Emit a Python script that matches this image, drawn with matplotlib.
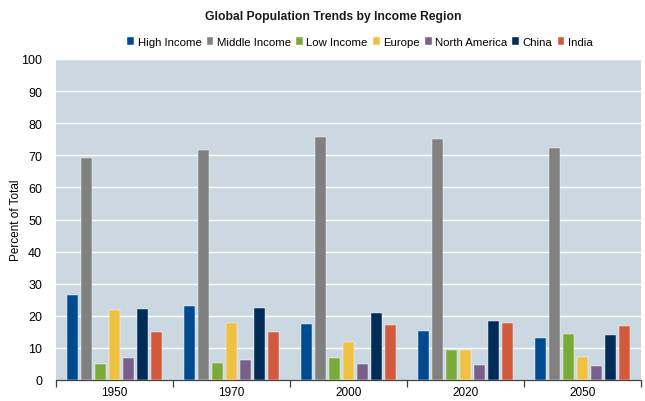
import matplotlib
matplotlib.use("Agg")
import matplotlib.pyplot as plt
import numpy as np

years = ["1950", "1970", "2000", "2020", "2050"]
series_names = ["High Income", "Middle Income", "Low Income", "Europe",
                "North America", "China", "India"]
high_income = [26.4, 23.0, 17.3, 15.4, 13.1]
middle_income = [69.3, 71.7, 75.7, 75.1, 72.3]
low_income = [5.0, 5.3, 6.8, 9.3, 14.4]
europe = [21.9, 17.8, 11.8, 9.5, 7.3]
north_america = [6.8, 6.3, 5.0, 4.7, 4.4]
china = [22.1, 22.3, 20.9, 18.3, 14.0]
india = [15.0, 15.0, 17.1, 17.8, 16.9]

colors = ["#004a91", "#808080", "#7aab38", "#efc143", "#7a6089", "#002c57", "#d05a3b"]

plt.rcParams["font.family"] = ["Liberation Sans", "DejaVu Sans"]

fig = plt.figure(figsize=(6.45, 4.02), dpi=100)
ax = fig.add_axes([56 / 645, 21 / 402, 585 / 645, 321 / 402])
ax.set_facecolor("#ccd8e1")

all_series = [high_income, middle_income, low_income, europe, north_america, china, india]
x = np.arange(len(years))
pitch = 0.12
width = 0.099
for i, (vals, name, c) in enumerate(zip(all_series, series_names, colors)):
    offs = (i - 3) * pitch
    ax.bar(x + offs, vals, width=width, color=c, label=name,
           edgecolor="#ffffff", linewidth=0.3, zorder=3)

ax.set_ylim(0, 100)
ax.set_xlim(-0.5, len(years) - 0.5)
ax.set_yticks(np.arange(0, 101, 10))
ax.yaxis.grid(True, color="white", linewidth=1.0, zorder=0)
ax.set_axisbelow(True)
for s in ["top", "right", "left"]:
    ax.spines[s].set_visible(False)
ax.spines["bottom"].set_color("#404040")
ax.spines["bottom"].set_linewidth(0.9)

ax.set_xticks(x)
ax.set_xticklabels(years, fontsize=8.5)
ax.tick_params(axis="x", length=0, pad=4)
ax.set_xticks(np.arange(-0.5, len(years), 1.0), minor=True)
ax.tick_params(axis="x", which="minor", length=5, color="#404040", width=0.9)
ax.tick_params(axis="y", length=0, labelsize=9, pad=10)

ax.set_ylabel("Percent of Total", fontsize=8.5)
ax.yaxis.set_label_coords(-0.058, 0.5)

fig.text(0.517, 0.958, "Global Population Trends by Income Region",
         ha="center", va="center", fontsize=8.7, fontweight="bold", color="#1a1a1a")

leg = fig.legend(loc="center", bbox_to_anchor=(0.558, 0.893), ncol=7, frameon=False,
                 fontsize=8.2, handlelength=0.6, handleheight=0.6, handletextpad=0.3,
                 columnspacing=0.45, borderaxespad=0)

fig.savefig("out.png", dpi=100)
